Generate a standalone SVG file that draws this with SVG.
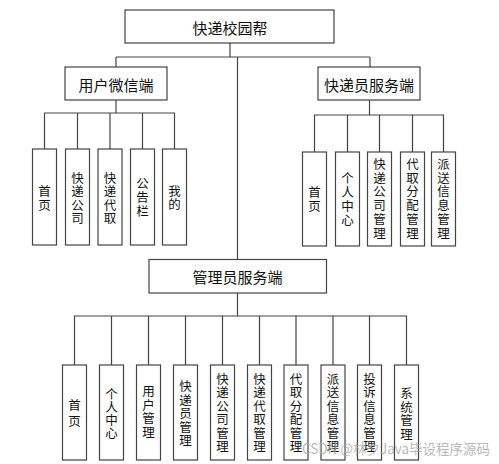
<svg xmlns="http://www.w3.org/2000/svg" width="499" height="464" viewBox="0 0 499 464">
<style>
.box{fill:#fff;stroke:#444;stroke-width:1.2}
.ln{fill:none;stroke:#444;stroke-width:1.2}
.t{font-family:"Noto Sans CJK SC","Liberation Sans",sans-serif;fill:#111;text-anchor:middle;dominant-baseline:central}
.h{font-size:15px}
.v{font-size:12.5px}
.wm{font-family:"Noto Sans CJK SC","Liberation Sans",sans-serif;font-size:14px;fill:#aaa;opacity:0.8}
</style>
<rect width="499" height="464" fill="#fff"/>
<g id="connectors">
<path class="ln" d="M230 43V57M116 57H370M237.5 57V259.5M116 67V57M370 67V57"/>
<path class="ln" d="M116 100V113M44.5 149V113H174.5V149M77.5 113V149M110 113V149M142.5 113V149"/>
<path class="ln" d="M369.5 100V115M314.5 152V115H443.5V152M347.5 115V152M379.5 115V152M412.5 115V152"/>
<path class="ln" d="M237.5 293V316M74.5 365V316H406.5V365M111.5 316V365M148.5 316V365M185.5 316V365M222.5 316V365M259.5 316V365M296 316V365M333 316V365M369.5 316V365"/>
</g>
<g id="root"><rect class="box" x="125" y="10" width="209" height="33"/><text class="t h" x="230" y="27">快递校园帮</text></g>
<g id="user"><rect class="box" x="65" y="67" width="102" height="33"/><text class="t h" x="116" y="84">用户微信端</text></g>
<g id="courier"><rect class="box" x="318" y="67" width="102" height="33"/><text class="t h" x="369" y="84">快递员服务端</text></g>
<g id="admin"><rect class="box" x="149" y="259.5" width="177.5" height="33.5"/><text class="t h" x="237.5" y="276">管理员服务端</text></g>

<g id="u1"><rect class="box" x="32.5" y="149" width="24" height="96"/><text class="t v"><tspan x="44.5" y="190">首</tspan><tspan x="44.5" y="203.5">页</tspan></text></g>
<g id="u2"><rect class="box" x="65.5" y="149" width="24" height="96"/><text class="t v"><tspan x="77.5" y="176.5">快</tspan><tspan x="77.5" y="190">递</tspan><tspan x="77.5" y="203.5">公</tspan><tspan x="77.5" y="217">司</tspan></text></g>
<g id="u3"><rect class="box" x="98" y="149" width="24" height="96"/><text class="t v"><tspan x="110" y="176.5">快</tspan><tspan x="110" y="190">递</tspan><tspan x="110" y="203.5">代</tspan><tspan x="110" y="217">取</tspan></text></g>
<g id="u4"><rect class="box" x="130.5" y="149" width="24" height="96"/><text class="t v"><tspan x="142.5" y="182">公</tspan><tspan x="142.5" y="196">告</tspan><tspan x="142.5" y="210">栏</tspan></text></g>
<g id="u5"><rect class="box" x="162.5" y="149" width="24" height="96"/><text class="t v"><tspan x="174.5" y="189.5">我</tspan><tspan x="174.5" y="203">的</tspan></text></g>

<g id="c1"><rect class="box" x="302.5" y="152" width="24" height="94"/><text class="t v"><tspan x="314.5" y="190.5">首</tspan><tspan x="314.5" y="204.5">页</tspan></text></g>
<g id="c2"><rect class="box" x="335.5" y="152" width="24" height="94"/><text class="t v"><tspan x="347.5" y="176.5">个</tspan><tspan x="347.5" y="190.5">人</tspan><tspan x="347.5" y="204.5">中</tspan><tspan x="347.5" y="218.5">心</tspan></text></g>
<g id="c3"><rect class="box" x="367.5" y="152" width="24" height="94"/><text class="t v"><tspan x="379.5" y="163">快</tspan><tspan x="379.5" y="176.7">递</tspan><tspan x="379.5" y="190.4">公</tspan><tspan x="379.5" y="204.1">司</tspan><tspan x="379.5" y="217.8">管</tspan><tspan x="379.5" y="231.5">理</tspan></text></g>
<g id="c4"><rect class="box" x="400.5" y="152" width="24" height="94"/><text class="t v"><tspan x="412.5" y="163">代</tspan><tspan x="412.5" y="176.7">取</tspan><tspan x="412.5" y="190.4">分</tspan><tspan x="412.5" y="204.1">配</tspan><tspan x="412.5" y="217.8">管</tspan><tspan x="412.5" y="231.5">理</tspan></text></g>
<g id="c5"><rect class="box" x="431.5" y="152" width="24" height="94"/><text class="t v"><tspan x="443.5" y="163">派</tspan><tspan x="443.5" y="176.7">送</tspan><tspan x="443.5" y="190.4">信</tspan><tspan x="443.5" y="204.1">息</tspan><tspan x="443.5" y="217.8">管</tspan><tspan x="443.5" y="231.5">理</tspan></text></g>

<g id="a1"><rect class="box" x="62.5" y="365" width="24" height="95"/><text class="t v"><tspan x="74.5" y="403.5">首</tspan><tspan x="74.5" y="420">页</tspan></text></g>
<g id="a2"><rect class="box" x="99.5" y="365" width="24" height="95"/><text class="t v"><tspan x="111.5" y="393">个</tspan><tspan x="111.5" y="406">人</tspan><tspan x="111.5" y="419">中</tspan><tspan x="111.5" y="432">心</tspan></text></g>
<g id="a3"><rect class="box" x="136.5" y="365" width="24" height="95"/><text class="t v"><tspan x="148.5" y="390">用</tspan><tspan x="148.5" y="403.5">户</tspan><tspan x="148.5" y="417">管</tspan><tspan x="148.5" y="430.5">理</tspan></text></g>
<g id="a4"><rect class="box" x="173.5" y="365" width="24" height="95"/><text class="t v"><tspan x="185.5" y="385">快</tspan><tspan x="185.5" y="398.5">递</tspan><tspan x="185.5" y="412">员</tspan><tspan x="185.5" y="425.5">管</tspan><tspan x="185.5" y="439">理</tspan></text></g>
<g id="a5"><rect class="box" x="210.5" y="365" width="24" height="95"/><text class="t v"><tspan x="222.5" y="378">快</tspan><tspan x="222.5" y="391.4">递</tspan><tspan x="222.5" y="404.8">公</tspan><tspan x="222.5" y="418.2">司</tspan><tspan x="222.5" y="431.6">管</tspan><tspan x="222.5" y="445">理</tspan></text></g>
<g id="a6"><rect class="box" x="247.5" y="365" width="24" height="95"/><text class="t v"><tspan x="259.5" y="378">快</tspan><tspan x="259.5" y="391.4">递</tspan><tspan x="259.5" y="404.8">代</tspan><tspan x="259.5" y="418.2">取</tspan><tspan x="259.5" y="431.6">管</tspan><tspan x="259.5" y="445">理</tspan></text></g>
<g id="a7"><rect class="box" x="284" y="365" width="24" height="95"/><text class="t v"><tspan x="296" y="378">代</tspan><tspan x="296" y="391.4">取</tspan><tspan x="296" y="404.8">分</tspan><tspan x="296" y="418.2">配</tspan><tspan x="296" y="431.6">管</tspan><tspan x="296" y="445">理</tspan></text></g>
<g id="a8"><rect class="box" x="321" y="365" width="24" height="95"/><text class="t v"><tspan x="333" y="378">派</tspan><tspan x="333" y="391.4">送</tspan><tspan x="333" y="404.8">信</tspan><tspan x="333" y="418.2">息</tspan><tspan x="333" y="431.6">管</tspan><tspan x="333" y="445">理</tspan></text></g>
<g id="a9"><rect class="box" x="357.5" y="365" width="24" height="95"/><text class="t v"><tspan x="369.5" y="378">投</tspan><tspan x="369.5" y="391.4">诉</tspan><tspan x="369.5" y="404.8">信</tspan><tspan x="369.5" y="418.2">息</tspan><tspan x="369.5" y="431.6">管</tspan><tspan x="369.5" y="445">理</tspan></text></g>
<g id="a10"><rect class="box" x="394.5" y="365" width="24" height="95"/><text class="t v"><tspan x="406.5" y="392">系</tspan><tspan x="406.5" y="405.5">统</tspan><tspan x="406.5" y="419">管</tspan><tspan x="406.5" y="432.5">理</tspan></text></g>

<text class="wm" x="302" y="454" textLength="188" lengthAdjust="spacingAndGlyphs">CSDN @林夕Java毕设程序源码</text>
</svg>
